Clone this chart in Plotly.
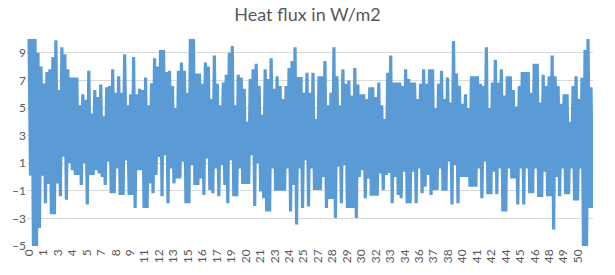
import plotly.graph_objects as go

# Upper (daily max) envelope of heat flux, W/m2
upper = [
    10.5, 10.5, 10.5, 9.0, 8.0, 6.8, 7.6, 7.8, 8.7, 9.9,
    6.3, 9.4, 8.9, 7.8, 7.2, 7.2, 7.2, 5.2, 6.0, 5.6,
    7.7, 4.6, 6.3, 5.8, 6.7, 4.4, 6.5, 6.6, 7.8, 6.1,
    7.3, 6.1, 8.9, 5.2, 6.0, 8.7, 6.0, 6.4, 6.3, 7.2,
    5.2, 6.8, 8.6, 8.0, 9.2, 9.2, 7.6, 7.7, 6.6, 5.0,
    7.7, 8.3, 7.7, 6.1, 10.3, 10.3, 7.5, 7.5, 6.75, 8.3,
    8.0, 5.65, 8.8, 6.75, 5.2, 6.85, 7.4, 9.0, 9.5, 5.2,
    7.4, 7.2, 6.4, 4.0, 7.1, 7.8, 8.2, 6.6, 4.5, 7.8,
    7.1, 8.6, 6.4, 7.3, 6.6, 5.65, 6.6, 7.9, 8.4, 9.4,
    7.25, 7.25, 6.1, 7.55, 6.1, 7.55, 4.2, 7.3, 7.3, 8.4,
    5.2, 6.1, 9.4, 7.3, 5.2, 7.8, 6.75, 7.0, 5.9, 7.9,
    6.7, 6.0, 6.0, 5.65, 6.5, 6.5, 5.8, 6.85, 5.2, 4.2,
    7.55, 8.8, 6.85, 6.85, 6.85, 6.6, 7.8, 7.1, 6.85, 6.85,
    5.65, 6.75, 7.8, 6.75, 7.8, 7.8, 5.0, 6.75, 7.7, 5.65,
    7.2, 5.4, 9.85, 7.5, 6.6, 5.3, 6.0, 5.0, 7.3, 7.3,
    7.3, 6.75, 6.6, 9.4, 5.0, 6.85, 8.5, 6.85, 7.8, 5.9,
    7.3, 7.3, 6.3, 5.1, 6.6, 7.6, 7.6, 7.6, 6.1, 8.2,
    8.2, 5.4, 7.4, 6.6, 7.3, 8.8, 7.3, 6.6, 5.3, 6.0,
    6.0, 4.0, 6.6, 7.3, 5.65, 7.2, 9.2, 10.3, 6.5,
]

# Lower (daily min) envelope of heat flux, W/m2
lower = [
    0.1, -5.5, -5.5, -3.7, 0.1, -1.9, -0.5, -2.7, -2.7, -0.46,
    -1.4, 1.46, -1.65, 1.0, 0.5, 0.14, 0.14, -0.58, 1.0, -2.0,
    0.14, 0.14, 0.5, 0.26, 0.0, -0.58, 1.1, -1.17, -1.17, 0.62,
    -1.3, -1.3, 1.2, -1.3, -1.3, -2.25, 0.5, 0.5, -2.25, -2.25,
    -0.46, -1.17, 0.14, 1.46, -1.4, 1.58, -1.9, 0.62, -0.46, -0.1,
    -0.1, 1.1, -1.9, -1.9, 0.86, -0.58, -0.58, -0.1, -1.3, 1.34,
    -0.94, -1.17, 0.62, -1.4, 0.86, -0.58, -1.9, 1.22, -1.4, -1.4,
    0.62, -0.5, -0.5, -0.5, 1.58, -2.1, 1.0, -1.05, -1.53, -2.5,
    -2.5, 0.62, -1.0, -1.0, -1.0, -1.0, 0.62, -2.5, -0.58, -3.45,
    0.62, -2.25, 1.22, -2.13, 0.62, -0.94, -0.94, -0.94, 0.0, -2.25,
    -1.6, -1.6, -2.97, 0.74, -1.9, 0.86, -2.25, -2.25, -2.25, -2.97,
    0.0, 0.5, -1.53, -0.1, -1.35, -1.35, -1.35, 0.26, -0.94, 0.14,
    0.3, -1.9, 0.0, -1.3, -1.53, 0.38, -1.9, -1.9, 0.38, -1.9,
    0.62, -1.17, -0.7, 0.14, -1.3, -0.94, -0.94, 0.62, -1.0, -1.0,
    1.1, -2.0, 0.86, -1.9, 0.0, 0.0, 0.0, -0.7, -0.7, -0.7,
    0.62, -1.53, 1.1, -1.25, -1.25, 0.38, -1.25, 0.62, -2.5, -2.5,
    0.62, -0.1, -0.1, -2.0, 0.62, -2.0, 0.62, -1.17, -1.17, 0.62,
    -1.45, -1.45, 0.38, -1.4, -1.4, -3.8, 0.0, -1.4, 0.62, -1.25,
    -1.25, 0.62, -1.7, -1.7, 0.62, -5.5, -5.5, -2.25, -2.25,
]

# Category labels shown on the x axis
x_labels = ["0", "1", "3", "4", "5", "7", "8", "9", "11", "12", "13", "15",
            "16", "17", "19", "20", "21", "23", "24", "25", "27", "28", "29",
            "30", "32", "33", "34", "36", "37", "38", "40", "41", "42", "44",
            "45", "46", "48", "49", "50"]

y_ticks = [-5, -3, -1, 1, 3, 5, 7, 9]

# samples per label interval
per_label = 14.5 / 3.0

xs, ys = [], []
for i, (hi, lo) in enumerate(zip(upper, lower)):
    xs.append(i / per_label)
    ys.append(hi)
    xs.append((i + 0.5) / per_label)
    ys.append(lo)

fig = go.Figure()
fig.add_trace(go.Scatter(
    x=xs, y=ys, mode="lines",
    line=dict(color="#5B9BD5", width=3.2),
    hoverinfo="skip", showlegend=False,
))

font_family = "Lato, 'Liberation Sans', Arial, sans-serif"

fig.update_layout(
    width=615, height=275,
    margin=dict(l=25, r=22, t=39, b=27),
    paper_bgcolor="white", plot_bgcolor="white",
    title=dict(text="Heat flux in W/m2", x=0.5, xanchor="center",
               y=1 - 15 / 275, yanchor="middle",
               font=dict(family=font_family, size=18, color="#595959")),
    showlegend=False,
)

fig.update_xaxes(
    range=[-2 / 14.5, (593 - 27) / 14.5],
    tickmode="array",
    tickvals=list(range(len(x_labels))),
    ticktext=x_labels,
    tickangle=-90,
    showgrid=False, zeroline=False, showline=False,
    ticks="",
    tickfont=dict(family=font_family, size=12, color="#595959"),
)

fig.update_yaxes(
    range=[-5, 10],
    tickmode="array",
    tickvals=y_ticks,
    showgrid=True, gridcolor="#D9D9D9", gridwidth=1,
    zeroline=False, showline=False, ticks="",
    tickfont=dict(family=font_family, size=12, color="#595959"),
)

fig.write_html("out.html")
